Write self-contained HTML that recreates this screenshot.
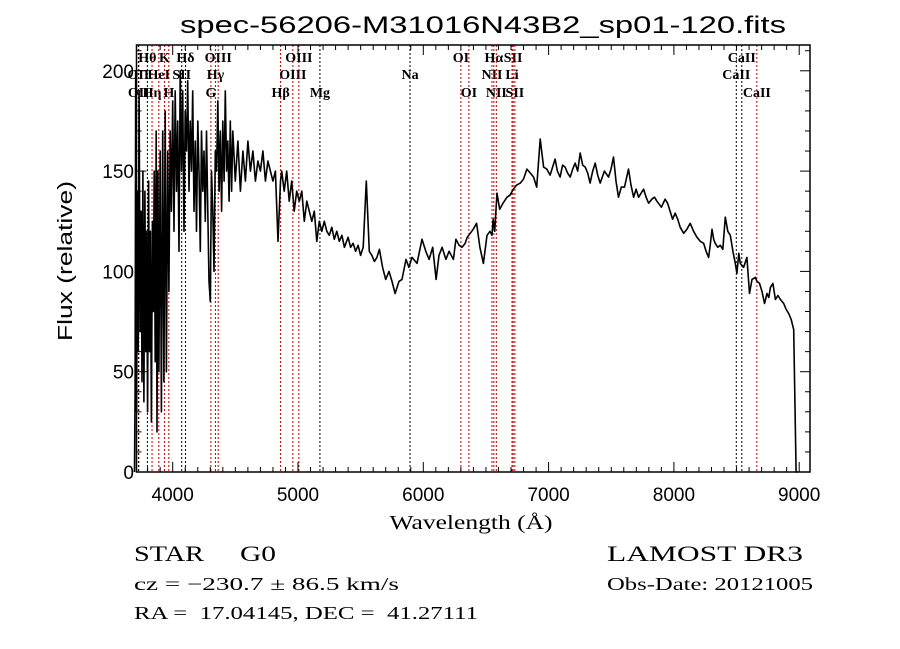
<!DOCTYPE html>
<html><head><meta charset="utf-8"><style>
html,body{margin:0;padding:0;background:#fff;}
svg{display:block;}
text{font-family:"Liberation Serif",serif;fill:#000;white-space:pre;}
</style></head><body>
<svg id="chart" width="900" height="649" viewBox="0 0 900 649" xmlns="http://www.w3.org/2000/svg" xml:space="preserve">
<rect x="0" y="0" width="900" height="649" fill="#fff"/>
<text x="483" y="33" text-anchor="middle" font-size="24" textLength="606" lengthAdjust="spacingAndGlyphs" style="font-family:'Liberation Sans',sans-serif">spec-56206-M31016N43B2_sp01-120.fits</text>
<g id="lines"></g>
<g id="spec"></g>
<g id="axes"></g>
<text x="471" y="529" text-anchor="middle" font-size="20" textLength="163" lengthAdjust="spacingAndGlyphs">Wavelength (Å)</text>
<text x="0" y="0" transform="translate(72,261) rotate(-90)" text-anchor="middle" font-size="20" textLength="160" lengthAdjust="spacingAndGlyphs" style="font-family:'Liberation Sans',sans-serif">Flux (relative)</text>
<text x="134" y="561" font-size="22" textLength="70" lengthAdjust="spacingAndGlyphs">STAR</text>
<text x="240" y="561" font-size="22" textLength="36" lengthAdjust="spacingAndGlyphs">G0</text>
<text x="134" y="590" font-size="18" textLength="265" lengthAdjust="spacingAndGlyphs">cz = −230.7 ± 86.5 km/s</text>
<text x="134" y="619" font-size="18" textLength="344" lengthAdjust="spacingAndGlyphs">RA =  17.04145, DEC =  41.27111</text>
<text x="607" y="561" font-size="22" textLength="196" lengthAdjust="spacingAndGlyphs">LAMOST DR3</text>
<text x="607" y="590" font-size="18" textLength="206" lengthAdjust="spacingAndGlyphs">Obs-Date: 20121005</text>
</svg>
<script>
const waves = [3695,3700,3705,3712,3718,3725,3732,3740,3748,3755,3762,3770,3778,3785,3792,3800,3808,3815,3822,3830,3838,3845,3852,3860,3868,3875,3882,3890,3900,3910,3920,3930,3940,3950,3960,3970,3980,3990,4000,4010,4020,4030,4040,4050,4060,4070,4080,4090,4100,4110,4120,4130,4140,4150,4160,4170,4180,4190,4200,4210,4220,4230,4240,4250,4260,4270,4280,4290,4300,4310,4320,4330,4340,4350,4360,4370,4380,4390,4400,4410,4420,4430,4440,4450,4460,4470,4480,4500,4520,4540,4560,4580,4600,4620,4640,4660,4680,4700,4720,4740,4760,4780,4800,4820,4840,4860,4870,4890,4910,4930,4950,4970,4990,5010,5030,5050,5070,5090,5110,5130,5150,5170,5190,5210,5230,5250,5270,5290,5310,5330,5350,5370,5400,5420,5440,5460,5480,5500,5520,5545,5569,5590,5610,5630,5650,5675,5700,5726,5750,5775,5806,5830,5862,5885,5910,5950,5990,6020,6046,6075,6102,6125,6150,6180,6206,6240,6260,6286,6310,6334,6350,6398,6425,6452,6480,6508,6532,6548,6558,6570,6588,6610,6636,6668,6692,6718,6745,6774,6800,6827,6855,6880,6905,6933,6960,6986,7012,7052,7070,7092,7112,7132,7152,7172,7192,7212,7232,7252,7272,7292,7312,7331,7352,7372,7392,7412,7445,7478,7498,7518,7538,7558,7580,7606,7620,7638,7658,7678,7698,7718,7738,7758,7778,7798,7824,7845,7864,7900,7930,7950,7970,7990,8010,8030,8050,8078,8104,8130,8157,8184,8210,8237,8257,8277,8290,8304,8318,8330,8350,8370,8390,8410,8430,8450,8471,8490,8503,8518,8530,8556,8583,8603,8623,8650,8663,8683,8703,8723,8743,8757,8770,8790,8810,8830,8850,8876,8896,8916,8936,8956,8975,8990,8996,9000,9002];
const fluxes = [0,40,200,30,140,60,190,70,130,45,150,35,140,60,120,30,145,60,120,25,125,80,150,55,170,20,150,50,160,30,170,45,180,50,160,90,170,130,185,120,190,140,175,110,200,150,190,120,180,160,195,140,175,150,190,130,165,120,175,150,110,170,140,160,125,170,130,95,85,150,130,100,160,150,185,140,170,130,175,145,190,150,165,135,175,140,170,145,165,140,160,145,165,150,160,145,155,150,160,145,155,150,145,150,115,145,150,140,150,135,145,130,140,135,140,125,135,130,125,130,115,125,120,125,120,118,122,116,120,115,118,112,117,112,114,110,113,108,112,145,110,108,105,107,111,102,96,100,95,89,95,96,106,102,107,104,116,110,106,112,96,108,112,106,110,106,116,113,112,114,117,121,124,112,104,118,120,118,126,120,139,131,134,137,138,141,143,144,146,151,149,147,142,166,152,151,148,156,150,147,153,152,149,147,151,154,150,159,153,152,149,144,150,154,148,144,150,147,151,157,145,137,142,142,146,151,143,137,141,137,139,141,137,134,136,137,135,132,136,134,130,126,129,126,122,119,121,124,120,117,115,114,110,107,113,121,116,114,112,113,111,127,120,118,110,104,99,109,104,102,107,89,96,97,95,94,90,84,89,87,92,94,86,88,86,84,81,79,76,71,0,0];
const lineWaves = [3726,3729,3798,3835,3889,3934,3969,4072,4102,4305,4341,4363,4861,4959,5007,5175,5894,6300,6364,6548,6563,6583,6708,6717,6731,8498,8542,8662];
const lineLabels = ["OII","OII","Hθ","Hη","HeI","K","H","SII","Hδ","G","Hγ","OIII","Hβ","OIII","OIII","Mg","Na","OI","OI","NII","Hα","NII","Li","SII","SII","CaII","CaII","CaII"];
const lineRows = [2,3,1,3,2,1,3,2,1,3,2,1,3,2,1,3,2,1,3,2,1,3,2,1,3,2,1,3];
const lineColors = ["r","k","k","r","r","r","r","k","k","r","r","r","r","r","r","k","k","r","r","r","r","r","r","r","r","k","k","r"];
const xTicks = [4000,5000,6000,7000,8000,9000];
const yTicks = [0,50,100,150,200];

const L=136.5,R=810,T=45,B=472;
const xs = w => 172.7 + (w-4000)*0.1253;
const ys = f => B - f*2.006;
const NS="http://www.w3.org/2000/svg";
function mk(tag, parent, attrs){const e=document.createElementNS(NS,tag);for(const k in attrs)e.setAttribute(k,attrs[k]);parent.appendChild(e);return e;}

const gl=document.getElementById('lines');
const rowY={1:62,2:79,3:97};
lineWaves.forEach((w,i)=>{
  const x=xs(w);
  const ln=mk('line',gl,{x1:x,x2:x,y1:T,y2:B,stroke:lineColors[i]==='r'?'#c00000':'#000','stroke-width':1,'stroke-dasharray':'2,2'});
  
  
  const t=mk('text',gl,{x:x,y:rowY[lineRows[i]],'text-anchor':'middle','font-size':14,'font-weight':'bold'});
  t.textContent=lineLabels[i];
  
  
});

const gs=document.getElementById('spec');
let d='';
waves.forEach((w,i)=>{d+=(i?'L':'M')+xs(w).toFixed(1)+','+ys(fluxes[i]).toFixed(1);});
const p=mk('path',gs,{d:d,fill:'none',stroke:'#000','stroke-width':1.6,'stroke-linejoin':'round'});



const ga=document.getElementById('axes');
const frame=mk('rect',ga,{x:L,y:T,width:R-L,height:B-T,fill:'none',stroke:'#000','stroke-width':1.5});


for(let w=3700;w<=9000;w+=100){
  const x=xs(w); if(x<L||x>R) continue;
  const len=(w%1000===0)?10:5;
  mk('line',ga,{x1:x,x2:x,y1:B,y2:B-len,stroke:'#000','stroke-width':1});
  mk('line',ga,{x1:x,x2:x,y1:T,y2:T+len,stroke:'#000','stroke-width':1});
}
xTicks.forEach(w=>{
  const t=mk('text',ga,{x:xs(w),y:B+29,'text-anchor':'middle','font-size':19,style:"font-family:'Liberation Sans',sans-serif"});
  t.textContent=w;
  
  
});
for(let f=0;f<=210;f+=10){
  const y=ys(f); const len=(f%50===0)?10:5;
  mk('line',ga,{x1:L,x2:L+len,y1:y,y2:y,stroke:'#000','stroke-width':1});
  mk('line',ga,{x1:R,x2:R-len,y1:y,y2:y,stroke:'#000','stroke-width':1});
}
yTicks.forEach(f=>{
  const t=mk('text',ga,{x:134,y:ys(f)+7,'text-anchor':'end','font-size':19,style:"font-family:'Liberation Sans',sans-serif"});
  t.textContent=f;
  
  
});
</script>
</body></html>
